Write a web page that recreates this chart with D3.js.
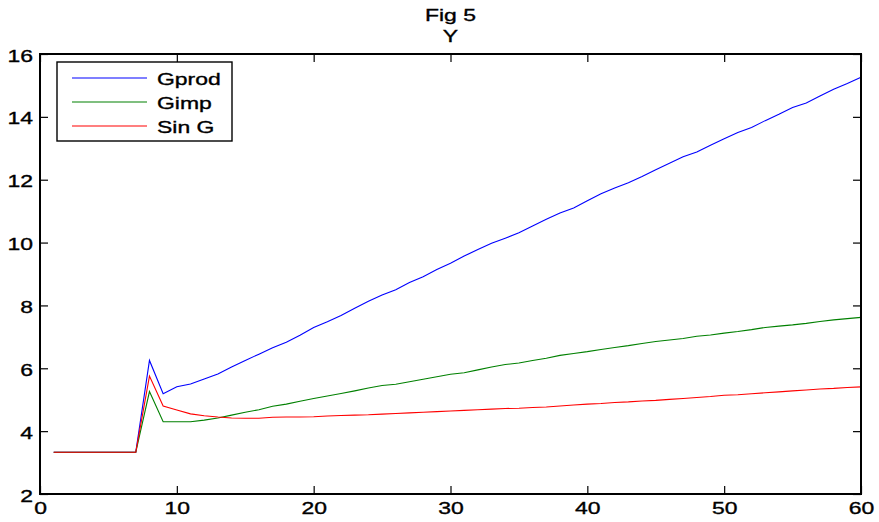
<!DOCTYPE html>
<html>
<head>
<meta charset="utf-8">
<script src="https://cdn.jsdelivr.net/npm/d3@7"></script>
<style>
  html, body { margin: 0; padding: 0; background: #fff; }
  svg { display: block; }
  text { font-family: "Liberation Sans", Arial, Helvetica, sans-serif; fill: #000; stroke: #000; stroke-width: 0.35px; }
</style>
</head>
<body>
<svg id="chart" width="879" height="522"></svg>
<script>
const titleLines = ["Fig 5", "Y"];
const seriesNames = ["Gprod", "Gimp", "Sin G"];
const seriesColors = ["#0000ff", "#008000", "#ff0000"];
const xTicks = [0, 10, 20, 30, 40, 50, 60];
const yTicks = [2, 4, 6, 8, 10, 12, 14, 16];
const periods = d3.range(1, 61);

const gprod = [3.33, 3.33, 3.33, 3.33, 3.33, 3.33, 3.33, 6.25, 5.19, 5.41,
  5.50, 5.66, 5.82, 6.04, 6.25, 6.45, 6.65, 6.83, 7.05, 7.30,
  7.48, 7.68, 7.91, 8.13, 8.33, 8.50, 8.73, 8.91, 9.14, 9.34,
  9.57, 9.78, 9.98, 10.14, 10.31, 10.53, 10.74, 10.94, 11.10, 11.33,
  11.55, 11.74, 11.90, 12.10, 12.32, 12.52, 12.73, 12.88, 13.10, 13.30,
  13.50, 13.66, 13.88, 14.08, 14.30, 14.44, 14.66, 14.88, 15.06, 15.26];

const gimp = [3.33, 3.33, 3.33, 3.33, 3.33, 3.33, 3.33, 5.26, 4.30, 4.30,
  4.30, 4.35, 4.42, 4.51, 4.60, 4.68, 4.79, 4.86, 4.95, 5.04,
  5.12, 5.20, 5.28, 5.37, 5.45, 5.49, 5.57, 5.65, 5.73, 5.81,
  5.86, 5.95, 6.04, 6.12, 6.17, 6.25, 6.32, 6.41, 6.47, 6.53,
  6.60, 6.66, 6.72, 6.79, 6.85, 6.90, 6.95, 7.02, 7.06, 7.12,
  7.17, 7.23, 7.30, 7.34, 7.38, 7.43, 7.49, 7.54, 7.58, 7.62];

const sinG = [3.33, 3.33, 3.33, 3.33, 3.33, 3.33, 3.33, 5.75, 4.80, 4.67,
  4.55, 4.49, 4.45, 4.42, 4.41, 4.41, 4.44, 4.45, 4.45, 4.46,
  4.48, 4.50, 4.51, 4.52, 4.54, 4.56, 4.58, 4.60, 4.62, 4.64,
  4.66, 4.68, 4.70, 4.72, 4.73, 4.75, 4.77, 4.80, 4.83, 4.86,
  4.88, 4.91, 4.93, 4.96, 4.98, 5.01, 5.04, 5.07, 5.10, 5.14,
  5.16, 5.19, 5.22, 5.25, 5.28, 5.31, 5.34, 5.36, 5.39, 5.41];

const seriesValues = [gprod, gimp, sinG];

const W = 879, H = 522;
const margin = { left: 40, right: 18, top: 54, bottom: 28 };
const plotW = W - margin.left - margin.right;   // 821
const plotH = H - margin.top - margin.bottom;   // 440
const SX = 1.35; // horizontal text stretch seen in the reference
const FS = 17;

const svg = d3.select("#chart");
const g = svg.append("g").attr("transform", `translate(${margin.left},${margin.top})`);

const x = d3.scaleLinear().domain([0, 60]).range([0, plotW]);
const y = d3.scaleLinear().domain([2, 16]).range([plotH, 0]);
const tickLen = 8;

// Lines
const line = d3.line().x((d, i) => x(periods[i])).y(d => y(d));
seriesValues.forEach((vals, k) => {
  g.append("path")
    .datum(vals)
    .attr("fill", "none")
    .attr("stroke", seriesColors[k])
    .attr("stroke-width", 1.1)
    .attr("d", line);
});

// Axes (ticks pointing inward, mirrored on top/right)
function styleAxis(sel) {
  sel.select(".domain").remove();
  sel.selectAll(".tick line").attr("stroke", "#000").attr("stroke-width", 1.2);
}

const xAxisB = g.append("g").attr("transform", `translate(0,${plotH})`)
  .call(d3.axisBottom(x).tickValues(xTicks).tickSize(-tickLen).tickPadding(0).tickFormat(d3.format("d")));
styleAxis(xAxisB);
xAxisB.selectAll(".tick text")
  .attr("font-size", FS).attr("y", 0).attr("dy", 0)
  .attr("transform", `translate(0,19.5) scale(${SX},1)`);

const xAxisT = g.append("g")
  .call(d3.axisTop(x).tickValues(xTicks).tickSize(-tickLen).tickFormat(""));
styleAxis(xAxisT);

const yAxisL = g.append("g")
  .call(d3.axisLeft(y).tickValues(yTicks).tickSize(-tickLen).tickPadding(0).tickFormat(d3.format("d")));
styleAxis(yAxisL);
yAxisL.selectAll(".tick text")
  .attr("font-size", FS).attr("x", 0).attr("dy", 0)
  .attr("transform", `translate(-7,7) scale(${SX},1)`);

const yAxisR = g.append("g").attr("transform", `translate(${plotW},0)`)
  .call(d3.axisRight(y).tickValues(yTicks).tickSize(-tickLen).tickFormat(""));
styleAxis(yAxisR);

// Box
g.append("rect")
  .attr("x", 0).attr("y", 0).attr("width", plotW).attr("height", plotH)
  .attr("fill", "none").attr("stroke", "#000").attr("stroke-width", 2);

// Title
titleLines.forEach((t, i) => {
  svg.append("text")
    .attr("text-anchor", "middle")
    .attr("font-size", FS)
    .attr("transform", `translate(${margin.left + plotW / 2},${21 + i * 21}) scale(${SX},1)`)
    .text(t);
});

// Legend
const leg = g.append("g").attr("transform", "translate(17,8)");
leg.append("rect")
  .attr("x", 0).attr("y", 0).attr("width", 175).attr("height", 79)
  .attr("fill", "#fff").attr("stroke", "#000").attr("stroke-width", 1.4);
seriesNames.forEach((name, k) => {
  const ly = 16 + k * 24;
  leg.append("line")
    .attr("x1", 15).attr("x2", 90).attr("y1", ly).attr("y2", ly)
    .attr("stroke", seriesColors[k]).attr("stroke-width", 1.1);
  leg.append("text")
    .attr("font-size", FS)
    .attr("transform", `translate(100,${ly + 7}) scale(${SX},1)`)
    .text(name);
});
</script>
</body>
</html>
